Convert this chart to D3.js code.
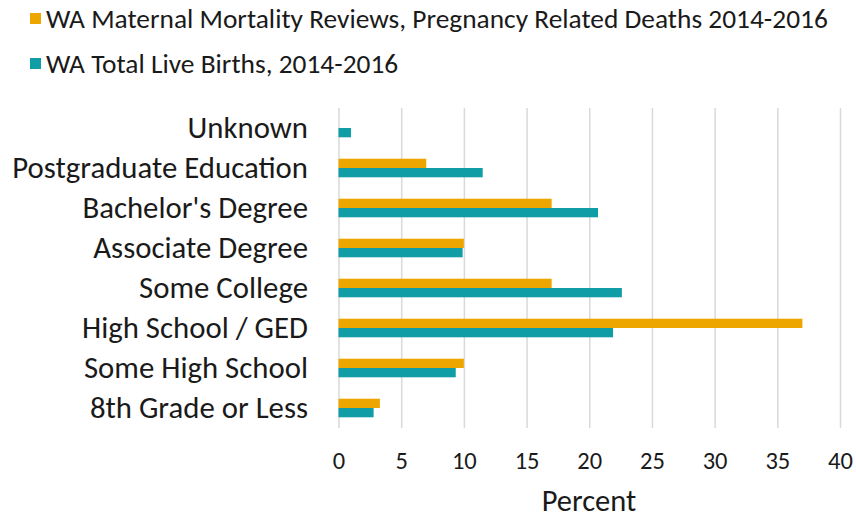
<!DOCTYPE html>
<html><head><meta charset="utf-8">
<script src="https://cdn.jsdelivr.net/npm/d3@7"></script>
<style>
body{margin:0;background:#fff;}
text{font-family:Carlito, Calibri, Lato, "Open Sans", sans-serif;fill:#1a1a1a;}
</style></head>
<body><svg id="c" width="856" height="519"></svg>
<script>
const categories = ["Unknown","Postgraduate Education","Bachelor's Degree","Associate Degree","Some College","High School / GED","Some High School","8th Grade or Less"];
const seriesNames = ["WA Maternal Mortality Reviews, Pregnancy Related Deaths 2014-2016","WA Total Live Births, 2014-2016"];
const deaths = [0, 7.0, 17.0, 10.0, 17.0, 37.0, 10.0, 3.3];
const births = [1.0, 11.5, 20.7, 9.9, 22.6, 21.9, 9.35, 2.8];
const tickValues = [0,5,10,15,20,25,30,35,40];
const colors = ["#EDA500","#119DA5"];
const axisTitle = "Percent";

const svg = d3.select("#c");
svg.append("rect").attr("width",856).attr("height",519).attr("fill","#fff");

const x = d3.scaleLinear().domain([0,40]).range([338.5,840]);
const y = d3.scaleBand().domain(categories).range([108,428]).paddingInner(0.535).paddingOuter(0.2675);
const sub = d3.scaleBand().domain([0,1]).range([0,y.bandwidth()]);

// gridlines
const grid = svg.append("g").attr("transform","translate(0,428)")
  .call(d3.axisBottom(x).tickValues(tickValues).tickSize(-320).tickFormat(""));
grid.select(".domain").remove();
grid.selectAll("line").attr("stroke","#d9d9d9").attr("stroke-width",1.5);

// bars
const series = [deaths, births];
series.forEach((vals,si)=>{
  svg.append("g").selectAll("rect").data(categories).join("rect")
    .attr("x",x(0))
    .attr("y",(d)=>y(d)+sub(si))
    .attr("width",(d,i)=>x(vals[i])-x(0))
    .attr("height",sub.bandwidth())
    .attr("fill",colors[si]);
});

// category labels
const ya = svg.append("g").attr("transform","translate(308,0)")
  .call(d3.axisLeft(y).tickSize(0).tickPadding(0));
ya.select(".domain").remove();
ya.selectAll("text").attr("font-size",30.8).attr("fill","#1a1a1a").style("font-family","Carlito, Calibri, Lato, sans-serif");

// x tick labels
const xa = svg.append("g").attr("transform","translate(0,428)")
  .call(d3.axisBottom(x).tickValues(tickValues).tickSize(0).tickPadding(24));
xa.select(".domain").remove();
xa.selectAll("text").attr("font-size",24.5).attr("fill","#1a1a1a").style("font-family","Carlito, Calibri, Lato, sans-serif");

svg.append("text").attr("x",589).attr("y",511).attr("text-anchor","middle")
  .attr("font-size",30.5).text(axisTitle);

// legend
const lg = svg.append("g").selectAll("g").data(seriesNames).join("g")
  .attr("transform",(d,i)=>`translate(30,${18.5+i*45})`);
lg.append("rect").attr("y",-5.5).attr("width",11).attr("height",11).attr("fill",(d,i)=>colors[i]);
lg.append("text").attr("x",16).attr("y",0).attr("dy","0.35em").attr("font-size",27.4).text(d=>d);
</script></body></html>
